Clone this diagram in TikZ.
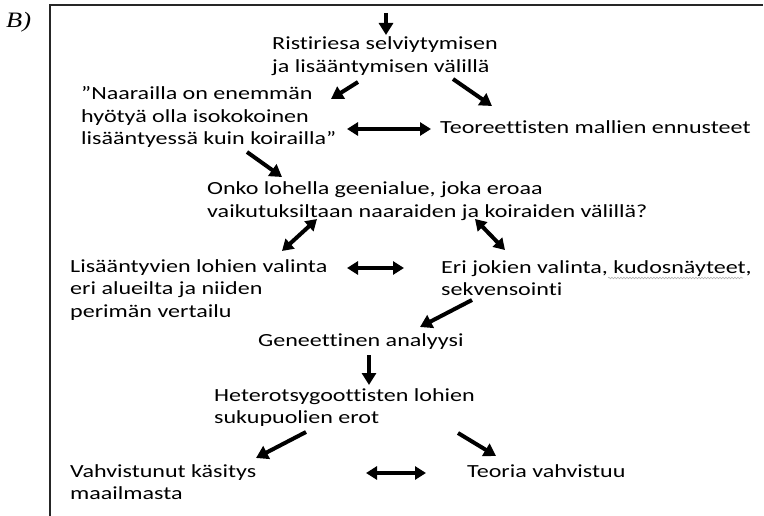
\documentclass[tikz,border=0pt]{standalone}
\usepackage{fontspec}
\setmainfont[FakeStretch=1.3,Ligatures={NoCommon}]{Carlito}
\newfontfamily\labelfont[FakeStretch=1.2]{Liberation Serif}
\usetikzlibrary{arrows.meta,decorations.pathmorphing}
\tikzset{
  txt/.style={anchor=base west, inner sep=0pt, align=left,
    font=\fontsize{18.5}{22.5}\selectfont},
  arr/.style={line width=4pt, -{Triangle[length=12pt,width=14pt]}},
  darr/.style={line width=4pt, {Triangle[length=11pt,width=13pt]}-{Triangle[length=11pt,width=13pt]}},
  frame/.style={line width=1.5pt, black!85},
}
\begin{document}
\begin{tikzpicture}[x=1pt,y=-1pt]
\useasboundingbox (0,0) rectangle (764,516);
% frame
\coordinate (fl) at (50,516);
\coordinate (fc) at (50,5);
\coordinate (fr) at (763,5);
\draw[frame] (fl) -- (fc) -- (fr);
\node[anchor=base west, inner sep=0pt, font=\labelfont\itshape\fontsize{22}{24}\selectfont] (lab) at (6,28) {B)};
% texts (anchor = baseline of the last line)
\node[txt] (rist) at (272,72.5) {Ristiriesa selviytymisen\\ja lisääntymisen välillä};
\node[txt] (naar) at (81,145) {”Naarailla on enemmän\\hyötyä olla isokokoinen\\lisääntyessä kuin koirailla”};
\node[txt] (teor) at (440,134) {Teoreettisten mallien ennusteet};
\node[txt] (onko) at (207,217.5) {Onko lohella geenialue, joka eroaa\\vaikutuksiltaan naaraiden ja koiraiden välillä?};
\node[txt] (lisa) at (70,317) {Lisääntyvien lohien valinta\\eri alueilta ja niiden\\perimän vertailu};
\node[txt] (eri) at (441,295.5) {Eri jokien valinta, kudosnäyteet,\\sekvensointi};
\node[txt] (gene) at (258,346) {Geneettinen analyysi};
\node[txt] (hete) at (214,423.5) {Heterotsygoottisten lohien\\sukupuolien erot};
\node[txt] (vahv) at (70,499.5) {Vahvistunut käsitys\\maailmasta};
\node[txt] (teoria) at (467,477) {Teoria vahvistuu};
% spell-check squiggle
\coordinate (sq1) at (608,278);
\coordinate (sq2) at (743,278);
\draw[gray!60, line width=0.6pt, decorate, decoration={snake, amplitude=0.8pt, segment length=3pt}] (sq1) -- (sq2);
% arrow end points
\coordinate (a0s) at (386,13);  \coordinate (a0e) at (386,35);
\coordinate (a1s) at (358,82);  \coordinate (a1e) at (331,99);
\coordinate (a2s) at (453,79);  \coordinate (a2e) at (492,106);
\coordinate (d1s) at (347,129); \coordinate (d1e) at (431,129);
\coordinate (a3s) at (247,152); \coordinate (a3e) at (282,177);
\coordinate (d2s) at (317,219); \coordinate (d2e) at (282,251);
\coordinate (d3s) at (475,219); \coordinate (d3e) at (505,250);
\coordinate (d4s) at (347,268); \coordinate (d4e) at (404,268);
\coordinate (a4s) at (472,300); \coordinate (a4e) at (420,327);
\coordinate (a5s) at (369,355); \coordinate (a5e) at (369,385);
\coordinate (a6s) at (306,432); \coordinate (a6e) at (256,458);
\coordinate (a7s) at (458,433); \coordinate (a7e) at (496,456);
\coordinate (d5s) at (366,473); \coordinate (d5e) at (426,473);
% arrows
\draw[arr] (a0s) -- (a0e);
\draw[arr] (a1s) -- (a1e);
\draw[arr] (a2s) -- (a2e);
\draw[darr] (d1s) -- (d1e);
\draw[arr] (a3s) -- (a3e);
\draw[darr] (d2s) -- (d2e);
\draw[darr] (d3s) -- (d3e);
\draw[darr] (d4s) -- (d4e);
\draw[arr] (a4s) -- (a4e);
\draw[arr] (a5s) -- (a5e);
\draw[arr] (a6s) -- (a6e);
\draw[arr] (a7s) -- (a7e);
\draw[darr] (d5s) -- (d5e);
\end{tikzpicture}
\end{document}
